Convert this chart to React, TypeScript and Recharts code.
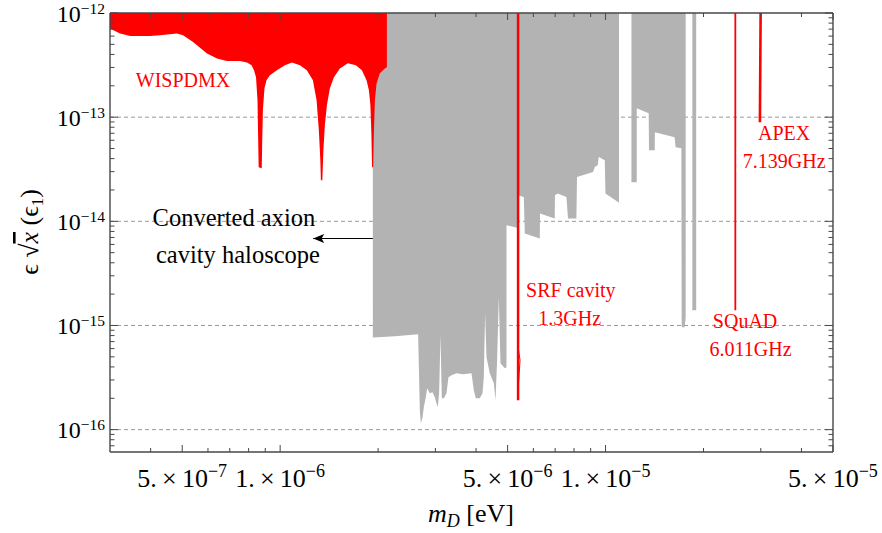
import React from 'react';
import { ComposedChart, XAxis, YAxis, Area, Line, Scatter, CartesianGrid } from 'recharts';

const SERIF = '"Liberation Serif", "Times New Roman", serif';
const FRAME = '#474747';
const RED = '#ff0000';
const GRAY = '#b3b3b3';

// axis ranges (eV, coupling)
const X_RANGE = [3e-7, 5e-5];
const Y_RANGE = [6.1e-17, 1e-12];

// ticks
const xMajorTicks = [5e-7, 1e-6, 5e-6, 1e-5, 5e-5];
const xMajorMantissa = ['5', '1', '5', '1', '5'];
const xMajorExponent = ['\u22127', '\u22126', '\u22126', '\u22125', '\u22125'];
const xMinorTicks = [4e-7, 6e-7, 7e-7, 8e-7, 9e-7, 2e-6, 3e-6, 4e-6, 6e-6, 7e-6, 8e-6, 9e-6, 2e-5, 3e-5, 4e-5];

const yMajorTicks = [1e-16, 1e-15, 1e-14, 1e-13, 1e-12];
const yMajorExponent = ['\u221216', '\u221215', '\u221214', '\u221213', '\u221212'];
const yMinorTicks = [
  7e-17, 8e-17, 9e-17,
  2e-16, 3e-16, 4e-16, 5e-16, 6e-16, 7e-16, 8e-16, 9e-16,
  2e-15, 3e-15, 4e-15, 5e-15, 6e-15, 7e-15, 8e-15, 9e-15,
  2e-14, 3e-14, 4e-14, 5e-14, 6e-14, 7e-14, 8e-14, 9e-14,
  2e-13, 3e-13, 4e-13, 5e-13, 6e-13, 7e-13, 8e-13, 9e-13,
];
const gridLines = [1e-16, 1e-15, 1e-14, 1e-13];

// WISPDMX excluded region (lower edge; excluded above)
const wispMass = [
  3.00e-7, 3.22e-7, 3.46e-7, 3.98e-7, 4.27e-7, 4.82e-7, 5.03e-7, 5.40e-7, 5.96e-7, 6.40e-7,
  6.86e-7, 7.52e-7, 7.91e-7, 8.17e-7, 8.31e-7, 8.43e-7, 8.52e-7, 8.56e-7, 8.59e-7, 8.78e-7,
  8.81e-7, 8.85e-7, 8.95e-7, 9.08e-7, 9.30e-7, 9.77e-7, 1.034e-6, 1.087e-6, 1.150e-6, 1.208e-6,
  1.261e-6, 1.294e-6, 1.315e-6, 1.329e-6, 1.334e-6, 1.348e-6, 1.358e-6, 1.372e-6, 1.392e-6, 1.422e-6,
  1.463e-6, 1.526e-6, 1.615e-6, 1.709e-6, 1.783e-6, 1.843e-6, 1.874e-6, 1.894e-6, 1.907e-6, 1.916e-6,
  1.931e-6, 1.941e-6, 1.955e-6, 1.978e-6, 2.025e-6, 2.098e-6, 2.128e-6,
];
const wispEps = [
  7.08e-13, 6.34e-13, 6.02e-13, 6.02e-13, 6.11e-13, 6.34e-13, 6.11e-13, 5.27e-13, 4.08e-13, 3.65e-13,
  3.46e-13, 3.46e-13, 3.34e-13, 3.15e-13, 2.82e-13, 2.41e-13, 1.45e-13, 6.0e-14, 3.31e-14, 3.23e-14,
  6.0e-14, 1.165e-13, 1.89e-13, 2.26e-13, 2.52e-13, 2.82e-13, 3.15e-13, 3.34e-13, 3.15e-13, 2.82e-13,
  2.26e-13, 1.45e-13, 7.49e-14, 3.86e-14, 2.48e-14, 2.48e-14, 4.81e-14, 8.36e-14, 1.30e-13, 1.89e-13,
  2.41e-13, 2.94e-13, 3.29e-13, 3.15e-13, 2.82e-13, 2.26e-13, 1.81e-13, 1.30e-13, 7.0e-14, 3.31e-14,
  3.31e-14, 7.0e-14, 1.45e-13, 2.11e-13, 2.64e-13, 2.94e-13, 3.01e-13,
];

// converted axion cavity haloscope (lower edges; excluded above)
const haloMassA = [
  1.927e-6, 2.252e-6, 2.655e-6, 2.687e-6, 2.706e-6, 2.739e-6, 2.764e-6, 2.803e-6, 2.829e-6, 2.884e-6,
  2.939e-6, 2.987e-6, 3.023e-6, 3.051e-6, 3.080e-6, 3.110e-6, 3.139e-6, 3.184e-6, 3.245e-6, 3.291e-6,
  3.362e-6, 3.483e-6, 3.649e-6, 3.873e-6, 3.937e-6, 3.993e-6, 4.107e-6, 4.187e-6, 4.225e-6, 4.264e-6,
  4.307e-6, 4.408e-6, 4.535e-6, 4.590e-6, 4.642e-6, 4.698e-6, 4.755e-6, 4.901e-6, 4.961e-6, 4.961e-6,
  5.385e-6, 5.385e-6, 5.607e-6, 5.647e-6, 6.279e-6, 6.290e-6, 6.980e-6, 6.990e-6, 7.129e-6, 7.581e-6,
  7.667e-6, 8.136e-6, 8.171e-6, 9.154e-6, 9.264e-6, 9.46e-6, 9.530e-6, 9.944e-6, 9.993e-6, 1.092e-5,
  1.100e-5,
];
const haloEpsA = [
  7.67e-16, 7.89e-16, 8.25e-16, 1.539e-16, 1.154e-16, 1.318e-16, 1.644e-16, 2.050e-16, 2.502e-16, 2.240e-16,
  2.290e-16, 2.050e-16, 1.796e-16, 1.644e-16, 2.240e-16, 8.07e-16, 2.006e-16, 2.006e-16, 2.240e-16, 3.190e-16,
  3.334e-16, 3.485e-16, 3.409e-16, 3.485e-16, 2.394e-16, 2.006e-16, 2.006e-16, 2.240e-16, 3.190e-16, 1.312e-15,
  4.963e-16, 3.485e-16, 2.794e-16, 1.919e-16, 4.645e-16, 1.869e-15, 4.346e-16, 3.892e-16, 3.979e-16, 9.18e-15,
  8.64e-15, 1.780e-14, 1.715e-14, 7.64e-15, 6.84e-15, 1.188e-14, 1.064e-14, 1.780e-14, 1.848e-14, 1.715e-14,
  1.064e-14, 1.064e-14, 2.668e-14, 2.979e-14, 3.327e-14, 3.46e-14, 4.150e-14, 3.858e-14, 1.848e-14, 1.535e-14,
  1.52e-14,
];
const haloMassB = [1.201e-5, 1.247e-5, 1.247e-5, 1.357e-5, 1.360e-5, 1.416e-5, 1.418e-5, 1.630e-5, 1.642e-5, 1.710e-5, 1.714e-5, 1.750e-5, 1.763e-5];
const haloEpsB = [2.373e-14, 2.373e-14, 1.217e-13, 1.090e-13, 4.81e-14, 4.81e-14, 7.16e-14, 6.41e-14, 5.14e-14, 5.03e-14, 9.63e-16, 9.63e-16, 1.2e-15];
const haloMassC = [1.848e-5, 1.899e-5];
const haloEpsC = [1.402e-15, 1.402e-15];

// narrow red exclusions
const srfMass = [5.385e-6, 5.385e-6];
const srfEps = [1e-12, 1.919e-16];
const srfBumpMass = [5.385e-6, 5.46e-6, 5.385e-6];
const srfBumpEps = [6.19e-16, 4.645e-16, 2.394e-16];
const squadMass = [2.505e-5, 2.505e-5];
const squadEps = [1e-12, 1.402e-15];
const apexMass = [2.996e-5, 2.981e-5];
const apexEps = [1e-12, 8.93e-14];

// arrow of the haloscope annotation
const arrowMass = [1.927e-6, 1.263e-6];
const arrowEps = [6.84e-15, 6.84e-15];

// annotation anchors (center x, baseline y)
const annotations = [
  { text: 'WISPDMX', m: 5.03e-7, e: 1.94e-13, color: RED, size: 20 },
  { text: 'SRF cavity', m: 7.82e-6, e: 1.88e-15, color: RED, size: 20 },
  { text: '1.3GHz', m: 7.76e-6, e: 1.007e-15, color: RED, size: 20 },
  { text: 'SQuAD', m: 2.684e-5, e: 9.42e-16, color: RED, size: 20 },
  { text: '6.011GHz', m: 2.791e-5, e: 5.07e-16, color: RED, size: 20 },
  { text: 'APEX', m: 3.537e-5, e: 6.10e-14, color: RED, size: 20 },
  { text: '7.139GHz', m: 3.54e-5, e: 3.26e-14, color: RED, size: 20 },
  { text: 'Converted axion', m: 7.21e-7, e: 8.97e-15, color: '#000', size: 24.5 },
  { text: 'cavity haloscope', m: 7.42e-7, e: 3.99e-15, color: '#000', size: 24.5 },
];

const lg = Math.log10;
const pts = (ms: number[], es: number[]) => ms.map((m, i) => ({ lx: lg(m), ly: lg(es[i]) }));

const xTicks = [...xMajorTicks, ...xMinorTicks].sort((a, b) => a - b).map(lg);
const yTicks = [...yMajorTicks, ...yMinorTicks].sort((a, b) => a - b).map(lg);

const findMajor = (arr: number[], v: number) => arr.findIndex((m) => Math.abs(lg(m) - v) < 1e-6);

function XTickBottom(props: any) {
  const { x, y, payload } = props;
  const mi = findMajor(xMajorTicks, payload.value);
  const len = mi >= 0 ? 7 : 4;
  return (
    <g>
      <line x1={x} x2={x} y1={y} y2={y - len} stroke={FRAME} strokeWidth={1} />
      {mi >= 0 && (
        <text x={x} y={y + 35} textAnchor="middle" fontFamily={SERIF} fontSize={26} fill="#000">
          {xMajorMantissa[mi]}.{'\u2009'}×{'\u2009'}10
          <tspan dy={-10} fontSize={18}>{xMajorExponent[mi]}</tspan>
        </text>
      )}
    </g>
  );
}

function XTickTop(props: any) {
  const { x, y, payload } = props;
  const mi = findMajor(xMajorTicks, payload.value);
  const len = mi >= 0 ? 7 : 4;
  return <line x1={x} x2={x} y1={y} y2={y + len} stroke={FRAME} strokeWidth={1} />;
}

function YTickLeft(props: any) {
  const { x, y, payload } = props;
  const mi = findMajor(yMajorTicks, payload.value);
  const len = mi >= 0 ? 8 : 4.5;
  return (
    <g>
      <line x1={x} x2={x + len} y1={y} y2={y} stroke={FRAME} strokeWidth={1} />
      {mi >= 0 && (
        <text x={x - 5} y={y + 8.5} textAnchor="end" fontFamily={SERIF} fontSize={24} fill="#000">
          10
          <tspan dy={-8} fontSize={15.5}>{yMajorExponent[mi]}</tspan>
        </text>
      )}
    </g>
  );
}

function YTickRight(props: any) {
  const { x, y, payload } = props;
  const mi = findMajor(yMajorTicks, payload.value);
  const len = mi >= 0 ? 8 : 4.5;
  return <line x1={x} x2={x - len} y1={y} y2={y} stroke={FRAME} strokeWidth={1} />;
}

function XTitle() {
  return (
    <text x={471} y={522} textAnchor="middle" fontFamily={SERIF} fontSize={26} fill="#000">
      <tspan fontStyle="italic">m</tspan>
      <tspan fontStyle="italic" fontSize={18} dy={5}>D</tspan>
      <tspan dy={-5}> [eV]</tspan>
    </text>
  );
}

function YTitle() {
  return (
    <text
      transform="translate(38,232) rotate(-90)"
      textAnchor="middle"
      fontFamily={SERIF}
      fontSize={26}
      fill="#000"
    >
      {'\u03F5 \u221A'}
      <tspan fontStyle="italic" style={{ textDecoration: 'overline' }}>x</tspan>
      {' (\u03F5'}
      <tspan fontSize={17} dy={5}>1</tspan>
      <tspan dy={-5}>)</tspan>
    </text>
  );
}

const axisLine = { stroke: FRAME, strokeWidth: 1.4 };

export default function App() {
  const top = lg(Y_RANGE[1]);
  return (
    <div style={{ position: 'absolute', left: 0, top: 0, width: 882, height: 533, background: '#fff' }}>
      <ComposedChart width={882} height={533} margin={{ top: 12, right: 48, bottom: 80, left: 109 }}>
        <CartesianGrid
          vertical={false}
          horizontalValues={gridLines.map(lg)}
          stroke="#9a9a9a"
          strokeDasharray="4 3"
        />
        <XAxis
          xAxisId={0}
          type="number"
          dataKey="lx"
          domain={[lg(X_RANGE[0]), lg(X_RANGE[1])]}
          allowDataOverflow
          ticks={xTicks}
          interval={0}
          height={1}
          tickSize={0}
          tickMargin={0}
          tickLine={false}
          tick={(p: any) => <XTickBottom {...p} />}
          axisLine={axisLine}
          label={<XTitle />}
        />
        <XAxis
          xAxisId="top"
          orientation="top"
          type="number"
          dataKey="lx"
          domain={[lg(X_RANGE[0]), lg(X_RANGE[1])]}
          allowDataOverflow
          ticks={xTicks}
          interval={0}
          height={1}
          tickSize={0}
          tickMargin={0}
          tickLine={false}
          tick={(p: any) => <XTickTop {...p} />}
          axisLine={axisLine}
        />
        <YAxis
          yAxisId={0}
          type="number"
          domain={[lg(Y_RANGE[0]), lg(Y_RANGE[1])]}
          allowDataOverflow
          ticks={yTicks}
          interval={0}
          width={1}
          tickSize={0}
          tickMargin={0}
          tickLine={false}
          tick={(p: any) => <YTickLeft {...p} />}
          axisLine={axisLine}
          label={<YTitle />}
        />
        <YAxis
          yAxisId="right"
          orientation="right"
          type="number"
          domain={[lg(Y_RANGE[0]), lg(Y_RANGE[1])]}
          allowDataOverflow
          ticks={yTicks}
          interval={0}
          width={1}
          tickSize={0}
          tickMargin={0}
          tickLine={false}
          tick={(p: any) => <YTickRight {...p} />}
          axisLine={axisLine}
        />

        <Area data={pts(haloMassA, haloEpsA)} dataKey="ly" type="linear" baseValue={top} stroke="none" fill={GRAY} fillOpacity={1} isAnimationActive={false} />
        <Area data={pts(haloMassB, haloEpsB)} dataKey="ly" type="linear" baseValue={top} stroke="none" fill={GRAY} fillOpacity={1} isAnimationActive={false} />
        <Area data={pts(haloMassC, haloEpsC)} dataKey="ly" type="linear" baseValue={top} stroke="none" fill={GRAY} fillOpacity={1} isAnimationActive={false} />
        <Area data={pts(wispMass, wispEps)} dataKey="ly" type="linear" baseValue={top} stroke="none" fill={RED} fillOpacity={1} isAnimationActive={false} />

        <Line data={pts(srfMass, srfEps)} dataKey="ly" type="linear" stroke={RED} strokeWidth={2.5} dot={false} isAnimationActive={false} />
        <Line data={pts(srfBumpMass, srfBumpEps)} dataKey="ly" type="linear" stroke={RED} strokeWidth={1} dot={false} isAnimationActive={false} />
        <Line data={pts(squadMass, squadEps)} dataKey="ly" type="linear" stroke={RED} strokeWidth={1.8} dot={false} isAnimationActive={false} />
        <Line data={pts(apexMass, apexEps)} dataKey="ly" type="linear" stroke={RED} strokeWidth={2.6} dot={false} isAnimationActive={false} />

        <Line data={pts(arrowMass, arrowEps)} dataKey="ly" type="linear" stroke="#000" strokeWidth={1.2} dot={false} isAnimationActive={false} />
        <Scatter
          data={[{ lx: lg(arrowMass[1]), ly: lg(arrowEps[1]) }]}
          dataKey="ly"
          isAnimationActive={false}
          shape={(p: any) => (
            <path d={`M${p.cx},${p.cy} l11,-4.5 l-2.5,4.5 l2.5,4.5 z`} fill="#000" />
          )}
        />
        {annotations.map((a, i) => (
          <Scatter
            key={i}
            data={[{ lx: lg(a.m), ly: lg(a.e) }]}
            dataKey="ly"
            isAnimationActive={false}
            shape={(p: any) => (
              <text x={p.cx} y={p.cy} textAnchor="middle" fontFamily={SERIF} fontSize={a.size} fill={a.color}>
                {a.text}
              </text>
            )}
          />
        ))}
      </ComposedChart>
    </div>
  );
}
